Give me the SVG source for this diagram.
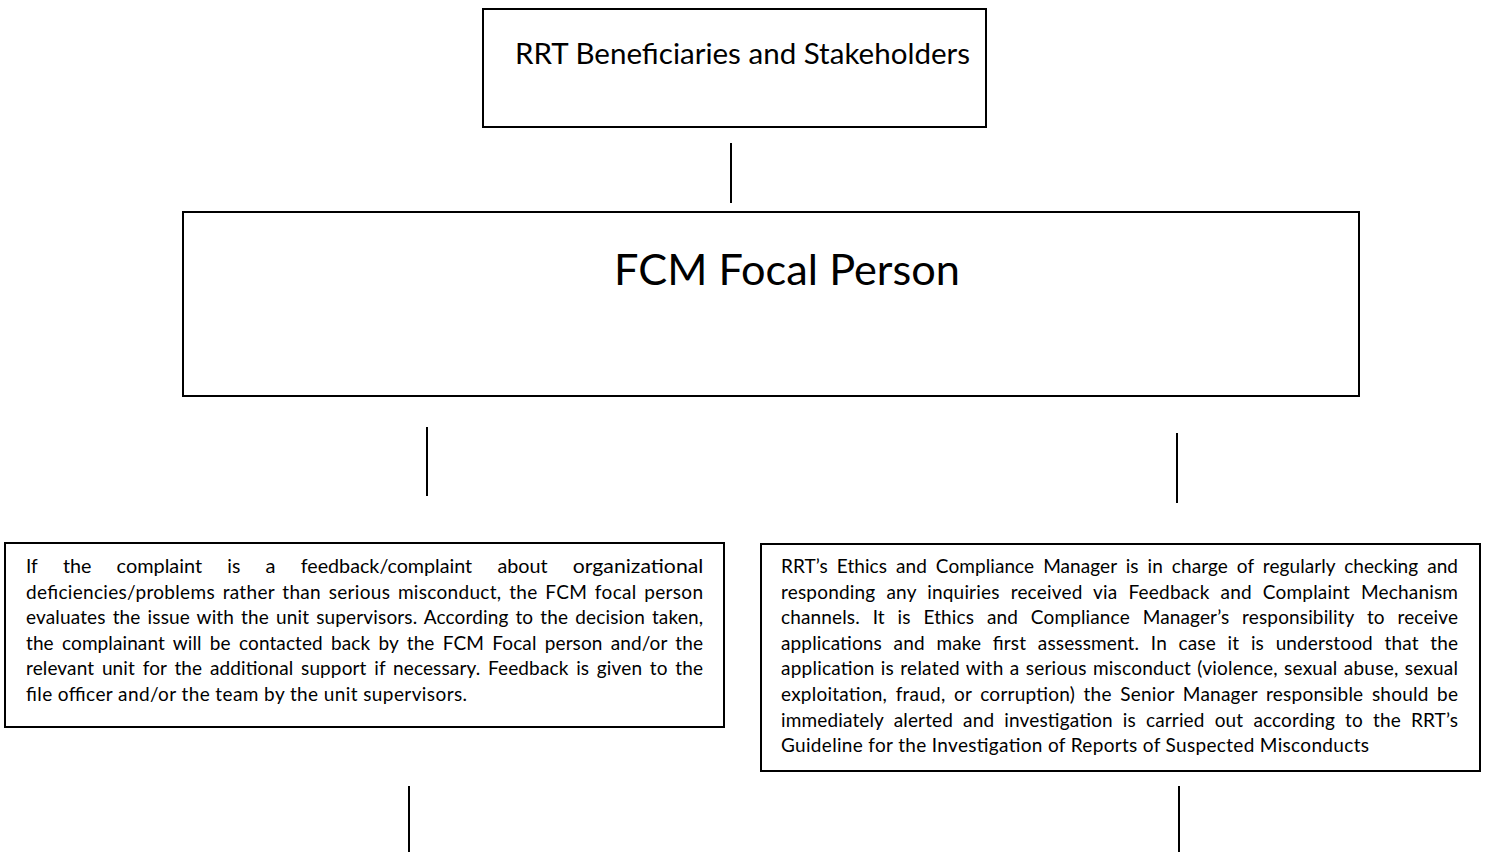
<svg xmlns="http://www.w3.org/2000/svg" width="1485" height="852" viewBox="0 0 1485 852">
  <style>
    .box { fill: #ffffff; stroke: #000000; stroke-width: 2; }
    .wire { stroke: #000000; stroke-width: 2; fill: none; }
    text { font-family: Lato, "Open Sans", sans-serif; fill: #000000; }
    .title { font-size: 29px; }
    .head { font-size: 43px; }
    .body { font-size: 19px; }
  </style>
  <rect width="1485" height="852" fill="#ffffff"/>

  <!-- connectors -->
  <g id="connectors">
    <line class="wire" x1="731" y1="143" x2="731" y2="203"/>
    <line class="wire" x1="427" y1="427" x2="427" y2="496"/>
    <line class="wire" x1="1177" y1="433" x2="1177" y2="503"/>
    <line class="wire" x1="409" y1="786" x2="409" y2="852"/>
    <line class="wire" x1="1179" y1="786" x2="1179" y2="852"/>
  </g>

  <!-- beneficiaries -->
  <g id="beneficiaries">
    <rect class="box" x="483" y="9" width="503" height="118"/>
    <text class="title" x="515" y="64" textLength="455" lengthAdjust="spacingAndGlyphs">RRT Beneficiaries and Stakeholders</text>
  </g>

  <!-- focal person -->
  <g id="focal-person">
    <rect class="box" x="183" y="212" width="1176" height="184"/>
    <text class="head" x="614" y="285" textLength="346" lengthAdjust="spacingAndGlyphs">FCM Focal Person</text>
  </g>

  <!-- organisational feedback path -->
  <g id="unit-feedback">
    <rect class="box" x="5" y="543" width="719" height="184"/>
    <g class="body">
      <text class="body" x="26" y="573" textLength="11.7" lengthAdjust="spacingAndGlyphs">If</text>
      <text class="body" x="62.9" y="573" textLength="28.5" lengthAdjust="spacingAndGlyphs">the</text>
      <text class="body" x="116.6" y="573" textLength="85.5" lengthAdjust="spacingAndGlyphs">complaint</text>
      <text class="body" x="227.3" y="573" textLength="13" lengthAdjust="spacingAndGlyphs">is</text>
      <text class="body" x="265.5" y="573" textLength="10" lengthAdjust="spacingAndGlyphs">a</text>
      <text class="body" x="300.7" y="573" textLength="171.5" lengthAdjust="spacingAndGlyphs">feedback/complaint</text>
      <text class="body" x="497.4" y="573" textLength="50.2" lengthAdjust="spacingAndGlyphs">about</text>
      <text class="body" x="572.8" y="573" textLength="130.5" lengthAdjust="spacingAndGlyphs">organizational</text>
    </g>
    <text class="body" x="26" y="598.6" textLength="677" lengthAdjust="spacing" style="word-spacing:2.5px">deficiencies/problems rather than serious misconduct, the FCM focal person</text>
    <text class="body" x="26" y="624.2" textLength="677" lengthAdjust="spacing" style="word-spacing:2px">evaluates the issue with the unit supervisors. According to the decision taken,</text>
    <text class="body" x="26" y="649.8" textLength="677" lengthAdjust="spacing" style="word-spacing:3.3px">the complainant will be contacted back by the FCM Focal person and/or the</text>
    <text class="body" x="26" y="675.4" textLength="677" lengthAdjust="spacing" style="word-spacing:2.7px">relevant unit for the additional support if necessary. Feedback is given to the</text>
    <text class="body" x="26" y="701" textLength="441" lengthAdjust="spacing">file officer and/or the team by the unit supervisors.</text>
  </g>

  <!-- serious misconduct path -->
  <g id="ethics-compliance">
    <rect class="box" x="761" y="544" width="719" height="227"/>
    <text class="body" x="781" y="573" textLength="677" lengthAdjust="spacing" style="word-spacing:4px">RRT’s Ethics and Compliance Manager is in charge of regularly checking and</text>
    <text class="body" x="781" y="598.6" textLength="677" lengthAdjust="spacing" style="word-spacing:6px">responding any inquiries received via Feedback and Complaint Mechanism</text>
    <text class="body" x="781" y="624.2" textLength="677" lengthAdjust="spacing" style="word-spacing:7.8px">channels. It is Ethics and Compliance Manager’s responsibility to receive</text>
    <text class="body" x="781" y="649.8" textLength="677" lengthAdjust="spacing" style="word-spacing:6.7px">applications and make first assessment. In case it is understood that the</text>
    <text class="body" x="781" y="675.4" textLength="677" lengthAdjust="spacing" style="word-spacing:1.2px">application is related with a serious misconduct (violence, sexual abuse, sexual</text>
    <text class="body" x="781" y="701" textLength="677" lengthAdjust="spacing" style="word-spacing:3.4px">exploitation, fraud, or corruption) the Senior Manager responsible should be</text>
    <text class="body" x="781" y="726.6" textLength="677" lengthAdjust="spacing" style="word-spacing:5.1px">immediately alerted and investigation is carried out according to the RRT’s</text>
    <text class="body" x="781" y="752.2" textLength="588" lengthAdjust="spacing">Guideline for the Investigation of Reports of Suspected Misconducts</text>
  </g>
</svg>
